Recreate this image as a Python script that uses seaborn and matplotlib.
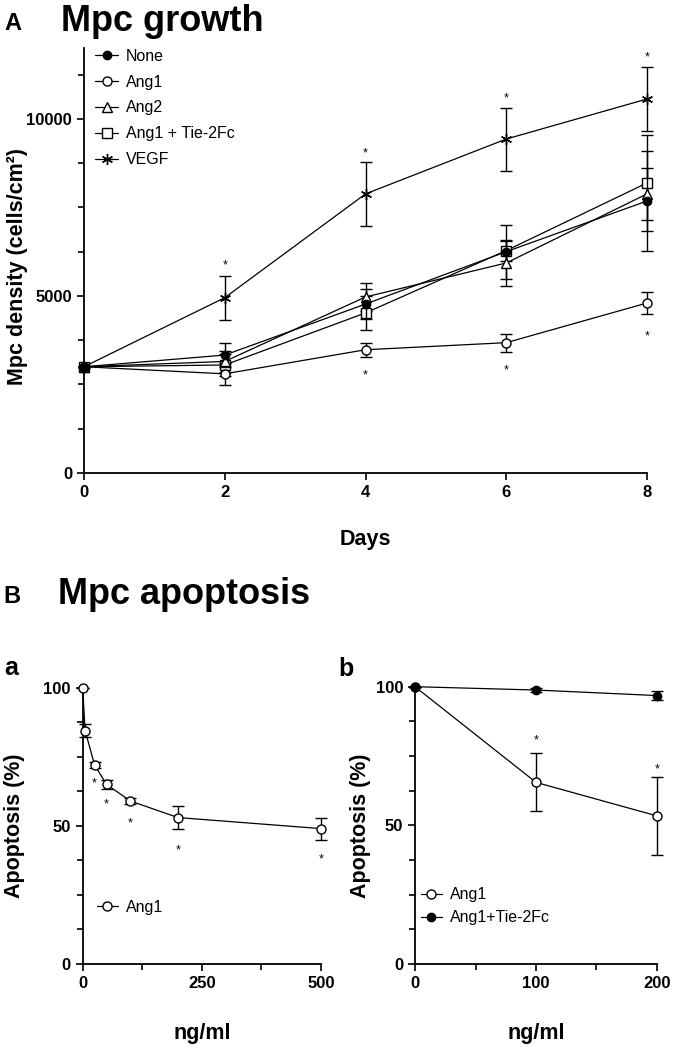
import numpy as np
import pandas as pd
import matplotlib
matplotlib.use("Agg")
import matplotlib.pyplot as plt
import seaborn as sns
from matplotlib.ticker import MultipleLocator

# ---------------- data ----------------
days = [0, 2, 4, 6, 8]
none_vals = [3000, 3330, 4770, 6250, 7680]
none_err = [0, 350, 420, 760, 1400]
ang1_vals = [3000, 2800, 3480, 3680, 4800]
ang1_err = [0, 310, 200, 250, 310]
ang2_vals = [3000, 3150, 4970, 5930, 7880]
ang2_err = [0, 300, 400, 650, 740]
ang1tie_vals = [3000, 3050, 4520, 6280, 8190]
ang1tie_err = [0, 300, 480, 280, 1360]
vegf_vals = [3000, 4950, 7880, 9430, 10560]
vegf_err = [0, 620, 900, 890, 890]
growth_sig_x = [2, 4, 6, 8, 4, 6, 8]
growth_sig_y = [5960, 9120, 10680, 11830, 2850, 2990, 3950]

conc_a = [0, 5, 25, 50, 100, 200, 500]
apop_a = [100, 84.5, 72, 65, 59, 53, 49]
apop_a_err = [0, 2.5, 1.0, 1.5, 1.2, 4.2, 4.0]
sig_a_x = [25, 50, 100, 200, 500]
sig_a_y = [66.5, 59, 52, 42.5, 39]

conc_b = [0, 100, 200]
ang1_b = [100, 65.5, 53.4]
ang1_b_err = [0, 10.5, 14]
tie_b = [100, 98.8, 96.8]
tie_b_err = [0, 0.6, 1.5]
sig_b_x = [100, 200]
sig_b_y = [82, 71.5]

# ---------------- style ----------------
sns.set_style("ticks")
plt.rcParams["font.family"] = ["Liberation Sans", "DejaVu Sans"]
plt.rcParams["axes.linewidth"] = 1.3
plt.rcParams["text.color"] = "black"
plt.rcParams["axes.labelcolor"] = "black"
plt.rcParams["xtick.color"] = "black"
plt.rcParams["ytick.color"] = "black"
plt.rcParams["axes.edgecolor"] = "black"

fig = plt.figure(figsize=(6.76, 10.5), dpi=100)
W, H = 676, 1050
axA = fig.add_axes([84 / W, 1 - 473 / H, (647 - 84) / W, (473 - 48) / H])
axa = fig.add_axes([82.7 / W, 1 - 964 / H, (321 - 82.7) / W, (964 - 687.7) / H])
axb = fig.add_axes([415 / W, 1 - 964 / H, (657 - 415) / W, (964 - 686.7) / H])

ASTER = (6, 2, 0)


def draw_series(ax, x, y, err, name, marker, fc, ms=6.5, z=3):
    sns.lineplot(x=x, y=y, ax=ax, color="black", lw=0.9, marker=marker,
                 markersize=ms, markerfacecolor=fc, markeredgecolor="black",
                 markeredgewidth=1.0, label=name, errorbar=None, clip_on=False,
                 zorder=z)
    ax.errorbar(x, y, yerr=err, fmt="none", ecolor="black", elinewidth=1.0,
                capsize=4, capthick=1.0, clip_on=False, zorder=z - 0.5)


def style_axis(ax):
    sns.despine(ax=ax)
    ax.tick_params(axis="both", which="both", direction="out", width=1.2,
                   colors="black", labelsize=12)
    ax.tick_params(which="major", length=5)
    ax.tick_params(which="minor", length=4)
    for lbl in ax.get_xticklabels() + ax.get_yticklabels():
        lbl.set_fontweight("bold")


def stars(ax, xs, ys):
    for xv, yv in zip(xs, ys):
        ax.annotate("*", (xv, yv), xytext=(0, -4.6), textcoords="offset points",
                    ha="center", va="baseline", fontsize=9, color="black",
                    annotation_clip=False)


# ---------------- panel A ----------------
draw_series(axA, days, ang1tie_vals, ang1tie_err, "Ang1 + Tie-2Fc", "s", "white", z=3)
draw_series(axA, days, ang2_vals, ang2_err, "Ang2", "^", "white", z=3.2)
draw_series(axA, days, ang1_vals, ang1_err, "Ang1", "o", "white", z=3.4)
draw_series(axA, days, none_vals, none_err, "None", "o", "black", ms=6, z=3.6)
draw_series(axA, days, vegf_vals, vegf_err, "VEGF", ASTER, "black", ms=8, z=3.8)
stars(axA, growth_sig_x, growth_sig_y)

axA.set_xlim(0, 8)
axA.set_ylim(0, 12000)
axA.set_xticks(days)
axA.set_yticks([0, 5000, 10000])
axA.yaxis.set_minor_locator(MultipleLocator(1250))
style_axis(axA)

handles, labels = axA.get_legend_handles_labels()
order = ["None", "Ang1", "Ang2", "Ang1 + Tie-2Fc", "VEGF"]
hmap = dict(zip(labels, handles))
axA.legend([hmap[k] for k in order], order, loc="center left",
           bbox_to_anchor=(0.0195, 0.859), frameon=False, fontsize=11.5,
           handlelength=1.45, handletextpad=0.5, borderaxespad=0, borderpad=0,
           labelspacing=0.68)

axA.set_xlabel("Days", fontsize=15.5, fontweight="bold")
axA.set_ylabel("Mpc density (cells/cm²)", fontsize=15.5, fontweight="bold")
axA.xaxis.set_label_coords(0.499, -0.132)
axA.yaxis.set_label_coords(-0.0995, 0.487)

# ---------------- panel B a ----------------
draw_series(axa, conc_a, apop_a, apop_a_err, "Ang1", "o", "white")
stars(axa, sig_a_x, sig_a_y)
axa.set_xlim(0, 500)
axa.set_ylim(0, 100)
axa.set_xticks([0, 250, 500])
axa.xaxis.set_minor_locator(MultipleLocator(125))
axa.set_yticks([0, 50, 100])
axa.yaxis.set_minor_locator(MultipleLocator(12.5))
style_axis(axa)
axa.legend(loc="center left", bbox_to_anchor=(0.06, 0.206), frameon=False,
           fontsize=11.5, handlelength=1.3, handletextpad=0.5, borderaxespad=0,
           borderpad=0)
axa.set_xlabel("ng/ml", fontsize=15.5, fontweight="bold")
axa.set_ylabel("Apoptosis (%)", fontsize=15.5, fontweight="bold")
axa.xaxis.set_label_coords(0.5, -0.213)
axa.yaxis.set_label_coords(-0.242, 0.5)

# ---------------- panel B b ----------------
draw_series(axb, conc_b, ang1_b, ang1_b_err, "Ang1", "o", "white")
draw_series(axb, conc_b, tie_b, tie_b_err, "Ang1+Tie-2Fc", "o", "black", ms=6)
stars(axb, sig_b_x, sig_b_y)
axb.set_xlim(0, 200)
axb.set_ylim(0, 100)
axb.set_xticks([0, 100, 200])
axb.xaxis.set_minor_locator(MultipleLocator(50))
axb.set_yticks([0, 50, 100])
axb.yaxis.set_minor_locator(MultipleLocator(12.5))
style_axis(axb)
axb.legend(loc="center left", bbox_to_anchor=(0.025, 0.208), frameon=False,
           fontsize=11.5, handlelength=1.3, handletextpad=0.5, borderaxespad=0,
           borderpad=0, labelspacing=0.5)
axb.set_xlabel("ng/ml", fontsize=15.5, fontweight="bold")
axb.set_ylabel("Apoptosis (%)", fontsize=15.5, fontweight="bold")
axb.xaxis.set_label_coords(0.5, -0.213)
axb.yaxis.set_label_coords(-0.182, 0.5)

# ---------------- headings ----------------
fig.text(4 / W, 1 - 30 / H, "A", fontsize=17, fontweight="bold", va="baseline")
fig.text(61 / W, 1 - 31 / H, "Mpc growth", fontsize=26, fontweight="bold", va="baseline")
fig.text(3 / W, 1 - 603 / H, "B", fontsize=17, fontweight="bold", va="baseline")
fig.text(58 / W, 1 - 604 / H, "Mpc apoptosis", fontsize=26, fontweight="bold", va="baseline")
fig.text(4 / W, 1 - 675 / H, "a", fontsize=18, fontweight="bold", va="baseline")
fig.text(338 / W, 1 - 676 / H, "b", fontsize=18, fontweight="bold", va="baseline")

fig.savefig("out.png", dpi=100)
